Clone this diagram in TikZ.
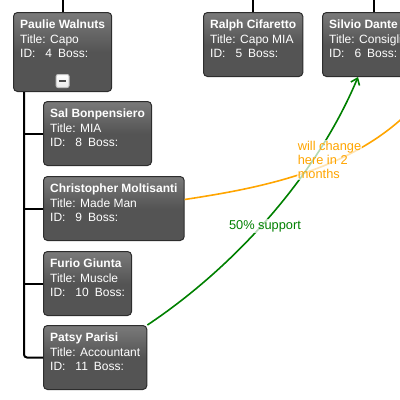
\documentclass[tikz,border=0pt]{standalone}
\usepackage{fontspec}
\setmainfont{Liberation Sans}
\usetikzlibrary{arrows.meta}

\definecolor{cardtop}{RGB}{122,122,122}
\definecolor{cardbottom}{RGB}{84,84,84}
\definecolor{cardline}{RGB}{45,45,45}
\definecolor{supportgreen}{RGB}{0,128,0}
\definecolor{changeorange}{RGB}{255,165,0}

% text of one member card: name, title, id
\newcommand{\memberinfo}[4][6.5pt]{\begin{tabular}{@{}l@{}}\textbf{#2}\\Title: #3\\ID:\hspace{7.5pt}#4\hspace{4.5pt}Boss:\\[#1]\end{tabular}}

\tikzset{every picture/.style={line width=0.75pt}}
\tikzset{
  member/.style={draw=cardline, rounded corners=3pt, anchor=north west, inner xsep=5pt, inner ysep=4.4pt, text=white, top color=cardtop, bottom color=cardbottom, middle color=cardbottom, font=\fontsize{9}{10.9}\selectfont},
  tree/.style={line width=1.5pt, rounded corners=2.25pt},
  togglebox/.style={draw=black!25, rounded corners=1.5pt, minimum size=9.75pt, inner sep=0pt, top color=white, bottom color=black!8},
  support/.style={color=supportgreen, line width=1.2pt, -{Straight Barb[length=4.5pt,width=7pt]}},
  change/.style={color=changeorange, line width=1.2pt},
  linklabel/.style={fill=white, fill opacity=0.7, text opacity=1, inner sep=1pt, font=\fontsize{9.6}{10.5}\selectfont}
}

\begin{document}
\begin{tikzpicture}[x=0.75pt,y=0.75pt,yscale=-1,xscale=1]
\useasboundingbox (0,0) rectangle (400,400);

% Cards
\node[member] (paulie) at (13,12) {\memberinfo[17.75pt]{Paulie Walnuts}{Capo}{4}};
\node[member] (ralph) at (203,12) {\memberinfo{Ralph Cifaretto}{Capo MIA}{5}};
\node[member] (silvio) at (322,12) {\memberinfo{Silvio Dante}{Consigliere}{6}};
\node[member] (sal) at (43,101) {\memberinfo{Sal Bonpensiero}{MIA}{8}};
\node[member] (christopher) at (43,176) {\memberinfo{Christopher Moltisanti}{Made Man}{9}};
\node[member] (furio) at (43,251) {\memberinfo{Furio Giunta}{Muscle}{10}};
\node[member] (patsy) at (43,325) {\memberinfo{Patsy Parisi}{Accountant}{11}};

% Collapse button
\node[togglebox] (toggle) at ([yshift=-8.25pt]paulie.south) {};
\draw[line width=1.5pt, color=black!70] ([xshift=-2.8pt]toggle.center) -- ([xshift=2.8pt]toggle.center);

% Tree lines
\coordinate (top) at (0,0);
\draw[tree] (paulie.north) -- (paulie.north |- top);
\draw[tree] (ralph.north) -- (ralph.north |- top);
\draw[tree] (silvio.north) -- (silvio.north |- top);
\coordinate (trunk) at ([xshift=8.25pt]paulie.south west);
\draw[tree] (trunk) |- (patsy.west);
\foreach \child in {sal,christopher,furio}
  \draw[tree] (trunk |- \child.west) -- (\child.west);

% Links
\coordinate (offright) at (420,100);
\draw[change] ([yshift=-6.75pt]christopher.east) .. controls (260,188) and (360,170) .. (offright);
\draw[support] (patsy.north east) .. controls (230,270) and (315,180) .. ([xshift=27pt]silvio.south west);

% Link labels
\node[linklabel, text=supportgreen] (supportlabel) at (265,226) {50\% support};
\node[linklabel, text=changeorange, anchor=north west, align=left] (changelabel) at (296,139) {will change\\here in 2\\months};
\end{tikzpicture}
\end{document}
